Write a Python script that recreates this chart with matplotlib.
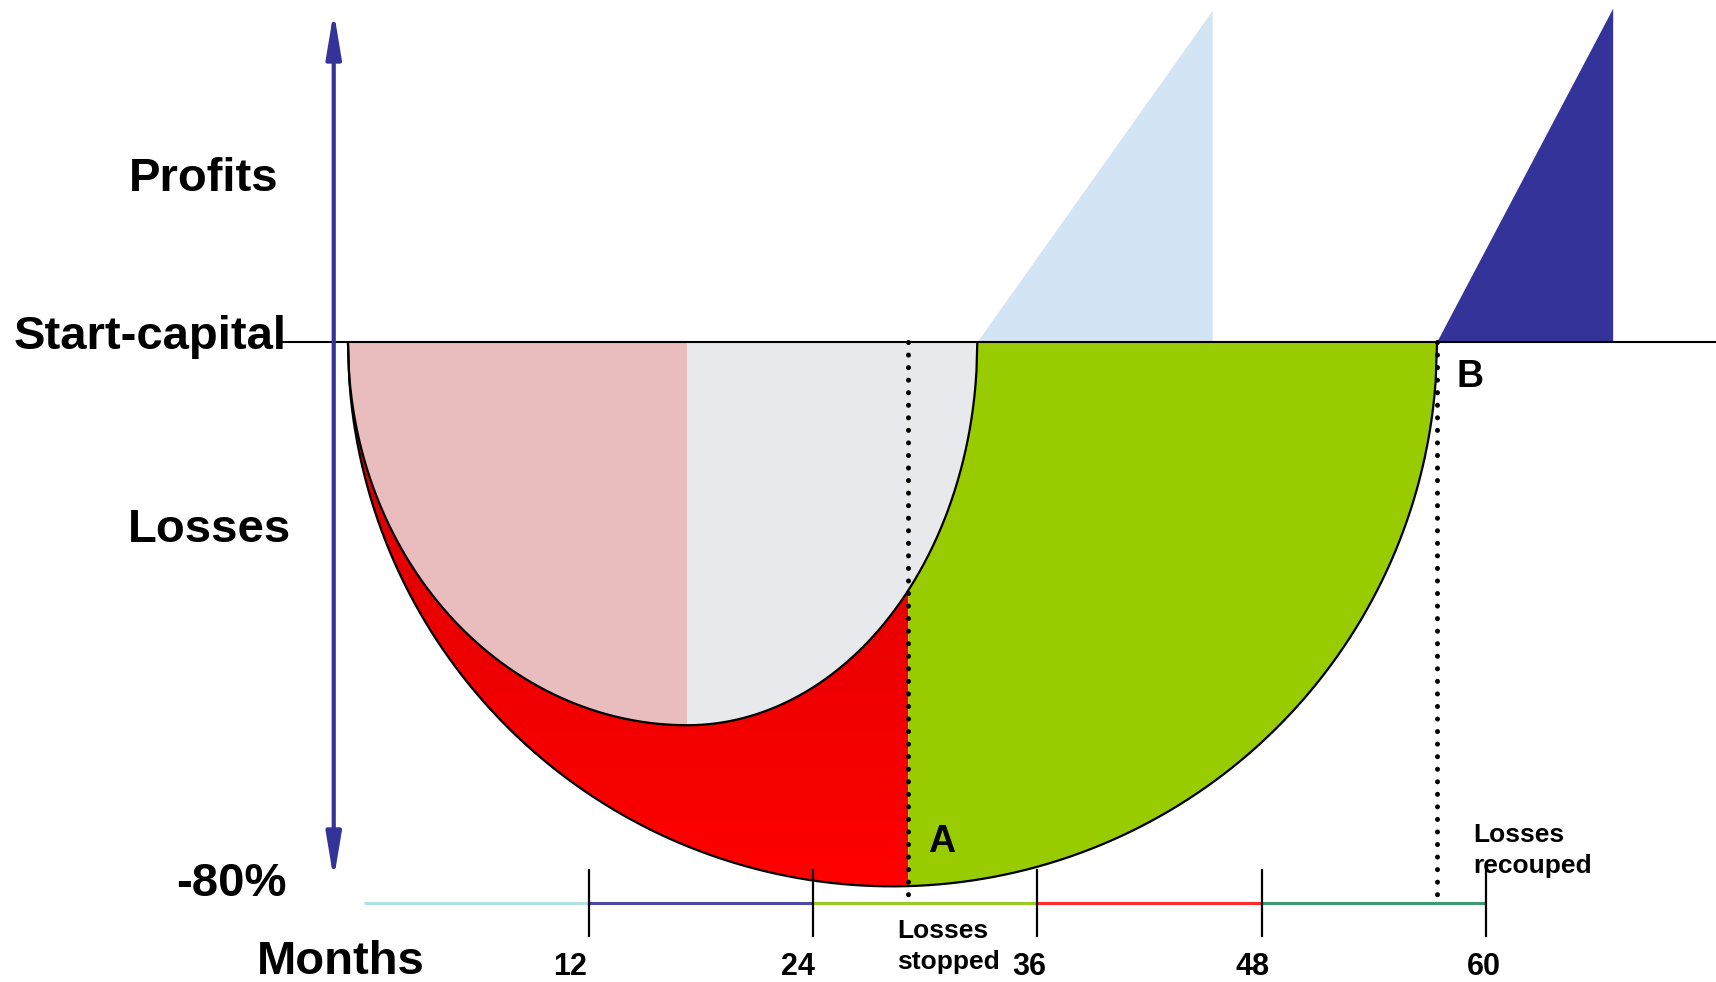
import numpy as np
import matplotlib
matplotlib.use("Agg")
import matplotlib.pyplot as plt
from matplotlib.patches import Polygon, FancyArrowPatch
from matplotlib.colors import LinearSegmentedColormap

plt.rcParams['font.family'] = ['Liberation Sans', 'DejaVu Sans']
plt.rcParams['font.weight'] = 'bold'

# ---- data (months on x, % of start capital on y) ----
month_ticks = [12, 24, 36, 48, 60]
month_labels = ["12", "24", "36", "48", "60"]
timeline_start = 0
timeline_colors = ["#b3e0e0", "#4a4aa3", "#99cc22", "#ff2a2a", "#3f9a74"]

loss_start = -0.88          # month where the drawdown begins
outer_end = 57.37           # month B: losses recouped
outer_trough = -80.0        # deepest loss, outer curve
inner_end = 32.78           # end of the inner curve
inner_trough = -56.3        # deepest loss, inner curve
inner_trough_month = 17.27  # month of the inner curve's low (also the fill boundary)
point_A = 29.09             # month A: losses stopped
point_B = outer_end

profit_light = [inner_end, 45.37, 48.8]   # start month, end month, peak %
profit_dark = [outer_end, 66.79, 49.1]

axis_top = 48.7
axis_bottom = -79.0

# ---- figure ----
fig = plt.figure(figsize=(17.16, 9.82), dpi=100)
ax = fig.add_axes([0, 0, 1, 1])
ax.set_axis_off()
XLIM = (-19.49, 72.29)
YLIM = (-94.07, 50.38)


def half_ellipse(x0, x1, depth, xs):
    c = (x0 + x1) / 2.0
    a = (x1 - x0) / 2.0
    t = np.clip((xs - c) / a, -1, 1)
    return depth * np.sqrt(1 - t ** 2)


def outer_curve(xs):
    return half_ellipse(loss_start, outer_end, outer_trough, xs)


def inner_curve(xs):
    # two quarter-ellipses meeting at the low point
    xs = np.asarray(xs, dtype=float)
    left = xs <= inner_trough_month
    a = np.where(left, inner_trough_month - loss_start, inner_end - inner_trough_month)
    t = np.clip((xs - inner_trough_month) / a, -1, 1)
    return inner_trough * np.sqrt(1 - t ** 2)


N = 400
# red crescent: between outer and inner curve, left of A
xo = np.linspace(loss_start, point_A, N)
xi = np.linspace(point_A, loss_start, N)
red_poly = np.vstack([np.column_stack([xo, outer_curve(xo)]),
                      np.column_stack([xi, inner_curve(xi)])])
red_patch = Polygon(red_poly, closed=True, facecolor='none', edgecolor='none')
ax.add_patch(red_patch)
red_cmap = LinearSegmentedColormap.from_list("reds", ["#ff0000", "#ea0000", "#c80000"])
grad = np.linspace(0, 1, 256).reshape(-1, 1)
im = ax.imshow(grad, extent=[loss_start, point_A, outer_trough, 0], origin='lower',
               cmap=red_cmap, aspect='auto', zorder=1, interpolation='bilinear')
im.set_clip_path(red_patch)

# green recovery area: outer curve right of A minus inner curve
xg1 = np.linspace(point_A, outer_end, N)
xg2 = np.linspace(inner_end, point_A, N)
green_poly = np.vstack([np.column_stack([xg1, outer_curve(xg1)]),
                        np.column_stack([xg2, inner_curve(xg2)])])
ax.add_patch(Polygon(green_poly, closed=True, facecolor="#99cc00", edgecolor='none', zorder=1))

# inner fills
xp = np.linspace(inner_trough_month, loss_start, N)
pink_poly = np.vstack([[loss_start, 0], [inner_trough_month, 0],
                       np.column_stack([xp, inner_curve(xp)])])
ax.add_patch(Polygon(pink_poly, closed=True, facecolor="#e9bdbe", edgecolor='none', zorder=1))
xm = np.linspace(inner_trough_month, inner_end, N)
marble_poly = np.vstack([[inner_trough_month, 0], np.column_stack([xm, inner_curve(xm)]),
                         [inner_end, 0]])
ax.add_patch(Polygon(marble_poly, closed=True, facecolor="#e7e9ed", edgecolor='none', zorder=1))

# outlines
xs = np.linspace(loss_start, outer_end, 800)
ax.plot(xs, outer_curve(xs), color='black', lw=1.6, zorder=3)
xs = np.linspace(loss_start, inner_end, 800)
ax.plot(xs, inner_curve(xs), color='black', lw=1.6, zorder=3)

# profit triangles
s, e, pk = profit_light
ax.add_patch(Polygon([[s, 0], [e, pk], [e, 0]], closed=True, facecolor="#d3e5f5",
                     edgecolor='none', zorder=1))
s, e, pk = profit_dark
ax.add_patch(Polygon([[s, 0], [e, pk], [e, 0]], closed=True, facecolor="#333399",
                     edgecolor='none', zorder=1))

# start-capital line
ax.plot([-4.57, XLIM[1]], [0, 0], color='black', lw=1.5, zorder=4)

# dotted markers A and B
for xm_ in (point_A, point_B):
    ax.plot([xm_, xm_], [0, -81.6], color='black', lw=3.6,
            linestyle=(0, (0.01, 2.5)), dash_capstyle='round', zorder=5)

# vertical double arrow
arr = FancyArrowPatch((-1.64, axis_bottom), (-1.64, axis_top),
                      arrowstyle="<|-|>,head_length=1.5,head_width=0.25",
                      mutation_scale=18, color="#333399", lw=3, zorder=4,
                      shrinkA=0, shrinkB=0)
ax.add_patch(arr)

# month timeline
edges = [timeline_start] + month_ticks
ty = -82.42
for i, col in enumerate(timeline_colors):
    ax.plot([edges[i], edges[i + 1]], [ty, ty], color=col, lw=2.2, solid_capstyle='butt', zorder=2)
for m in month_ticks:
    ax.plot([m, m], [-77.6, -87.25], color='black', lw=1.6, zorder=3)
label_shift = [-1.0, -0.8, -0.45, -0.5, -0.1]
for m, lab, dx in zip(month_ticks, month_labels, label_shift):
    ax.text(m + dx, -91.9, lab, fontsize=22, ha='center', va='center', fontweight='bold')

# axis captions
big = 34
ax.text(-4.57, 24.1, "Profits", fontsize=big, ha='right', va='center', fontweight='bold')
ax.text(-4.16, 0.75, "Start-capital", fontsize=big, ha='right', va='center', fontweight='bold')
ax.text(-3.93, -27.6, "Losses", fontsize=big, ha='right', va='center', fontweight='bold')
ax.text(-4.16, -79.7, "-80%", fontsize=big, ha='right', va='center', fontweight='bold')
ax.text(-1.25, -91.2, "Months", fontsize=big, ha='center', va='center', fontweight='bold')

ax.text(30.85, -73.5, "A", fontsize=27, ha='center', va='center', fontweight='bold')
ax.text(59.12, -5.1, "B", fontsize=27, ha='center', va='center', fontweight='bold')
ax.text(28.51, -88.85, "Losses\nstopped", fontsize=19, ha='left', va='center',
        fontweight='bold', linespacing=1.4)
ax.text(59.3, -74.7, "Losses\nrecouped", fontsize=19, ha='left', va='center',
        fontweight='bold', linespacing=1.4)

ax.set_xlim(*XLIM)
ax.set_ylim(*YLIM)
fig.savefig("out.png", dpi=100, facecolor='white')
